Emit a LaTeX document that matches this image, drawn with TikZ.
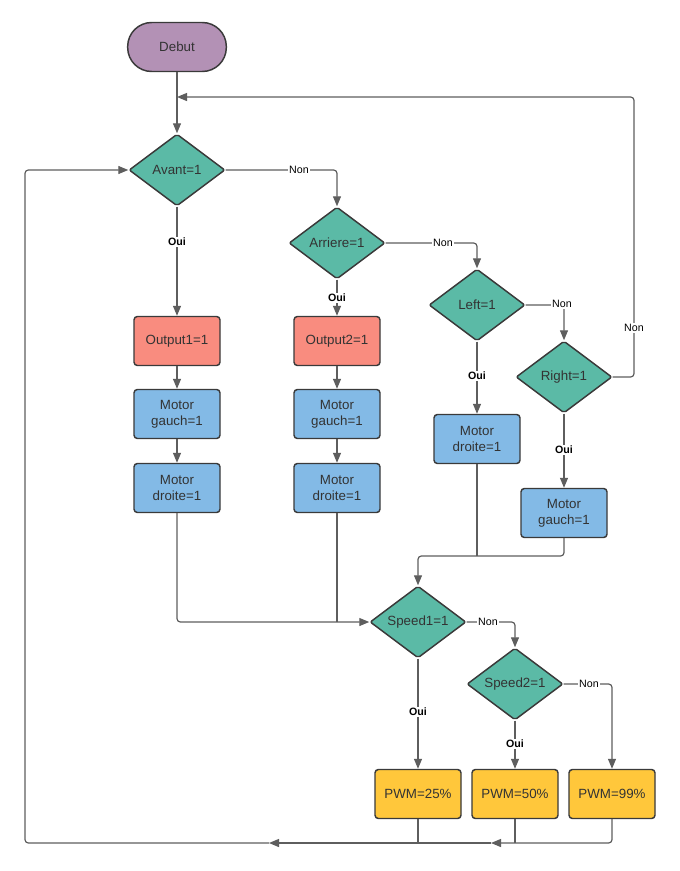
\documentclass[tikz,border=0pt]{standalone}
\usepackage{fontspec}
\setmainfont{Liberation Sans}
\usetikzlibrary{shapes.geometric,arrows.meta}
\definecolor{cpurple}{HTML}{B391B5}
\definecolor{cteal}{HTML}{5BBAA6}
\definecolor{cred}{HTML}{F98C7F}
\definecolor{cblue}{HTML}{83BAE6}
\definecolor{cyellow}{HTML}{FFC73B}
\definecolor{cborder}{HTML}{3A3A3A}
\definecolor{cline}{HTML}{5E5E5E}
\definecolor{ctext}{HTML}{333333}
\tikzset{
  base/.style={draw=cborder, line width=1.1pt, text=ctext, font=\fontsize{10}{12}\selectfont, align=center, inner sep=0pt},
  startbox/.style={base, fill=cpurple, rounded corners=18pt, minimum width=74pt, minimum height=36.75pt},
  dec/.style={base, diamond, fill=cteal, shape aspect=1.333, minimum width=72pt, minimum height=54pt, rounded corners=1.5pt},
  redbox/.style={base, rectangle, fill=cred, rounded corners=2.5pt, minimum width=64.5pt, minimum height=36.75pt},
  bluebox/.style={redbox, fill=cblue},
  yelbox/.style={redbox, fill=cyellow},
  line/.style={draw=cline, line width=0.9pt, rounded corners=2.5pt},
  arr/.style={line, -{Triangle[length=7.5pt,width=6pt]}},
  lbl/.style={fill=white, inner sep=1pt, font=\fontsize{8}{9}\selectfont, text=black},
  lblo/.style={lbl, font=\fontsize{8}{9}\selectfont\bfseries}
}
\begin{document}
\begin{tikzpicture}[x=0.75pt,y=-0.75pt]
\useasboundingbox[fill=white] (0,0) rectangle (680,871);
% nodes
\node[startbox] (debut) at (177,47) {Debut};
\node[dec] (avant) at (177,170) {Avant=1};
\node[dec] (arriere) at (337,243) {Arriere=1};
\node[dec] (left) at (477,305) {Left=1};
\node[dec] (right) at (564,377) {Right=1};
\node[redbox] (out1) at (177,341) {Output1=1};
\node[bluebox] (mg1) at (177,414) {Motor\\gauch=1};
\node[bluebox] (md1) at (177,488) {Motor\\droite=1};
\node[redbox] (out2) at (337,341) {Output2=1};
\node[bluebox] (mg2) at (337,414) {Motor\\gauch=1};
\node[bluebox] (md2) at (337,488) {Motor\\droite=1};
\node[bluebox] (md3) at (477,439) {Motor\\droite=1};
\node[bluebox] (mg3) at (564,513) {Motor\\gauch=1};
\node[dec] (speed1) at (418,622) {Speed1=1};
\node[dec] (speed2) at (515,684) {Speed2=1};
\node[yelbox] (pwm25) at (418,794) {PWM=25\%};
\node[yelbox] (pwm50) at (515,794) {PWM=50\%};
\node[yelbox] (pwm99) at (612,794) {PWM=99\%};
% coordinates
\coordinate (rtop) at (634,97);
\coordinate (joinA) at (177,97);
\coordinate (ah2) at (491,843);
\coordinate (ah1) at (269,843);
\coordinate (lft) at (25,170);
\coordinate (j3) at (418,556);
% connectors
\draw[arr] (debut) -- (avant.north);
\draw[arr] (right.east) -| (rtop) -- (joinA);
\draw[arr] (pwm99.south) |- (ah2);
\draw[arr] (ah2) -- (ah1);
\draw[arr] (ah1) -| (lft) -- (avant.west);
\draw[line] (pwm50.south) -- (pwm50.south |- ah2);
\draw[line] (pwm25.south) -- (pwm25.south |- ah2);
\draw[arr] (avant.east) -| (arriere.north);
\draw[arr] (avant.south) -- (out1.north);
\draw[arr] (out1) -- (mg1);
\draw[arr] (mg1) -- (md1);
\draw[arr] (md1.south) |- (speed1.west);
\draw[arr] (arriere.south) -- (out2.north);
\draw[arr] (out2) -- (mg2);
\draw[arr] (mg2) -- (md2);
\draw[line] (md2.south) -- (md2.south |- speed1.west);
\draw[arr] (arriere.east) -| (left.north);
\draw[arr] (left.south) -- (md3.north);
\draw[arr] (left.east) -| (right.north);
\draw[arr] (right.south) -- (mg3.north);
\draw[arr] (mg3.south) |- (j3) -- (speed1.north);
\draw[line] (md3.south) -- (md3.south |- j3);
\draw[arr] (speed1.east) -| (speed2.north);
\draw[arr] (speed1.south) -- (pwm25.north);
\draw[arr] (speed2.south) -- (pwm50.north);
\draw[arr] (speed2.east) -| (pwm99.north);
% labels
\node[lbl] (n1) at (634,328) {Non};
\node[lbl] (n2) at (299,170) {Non};
\node[lblo] (o1) at (177,242) {Oui};
\node[lblo] (o2) at (337,298) {Oui};
\node[lbl] (n3) at (443,243) {Non};
\node[lblo] (o3) at (477,376) {Oui};
\node[lbl] (n4) at (562,304) {Non};
\node[lblo] (o4) at (564,450) {Oui};
\node[lbl] (n5) at (488,622) {Non};
\node[lblo] (o5) at (418,712) {Oui};
\node[lblo] (o6) at (515,744) {Oui};
\node[lbl] (n6) at (589,684) {Non};
\end{tikzpicture}
\end{document}
